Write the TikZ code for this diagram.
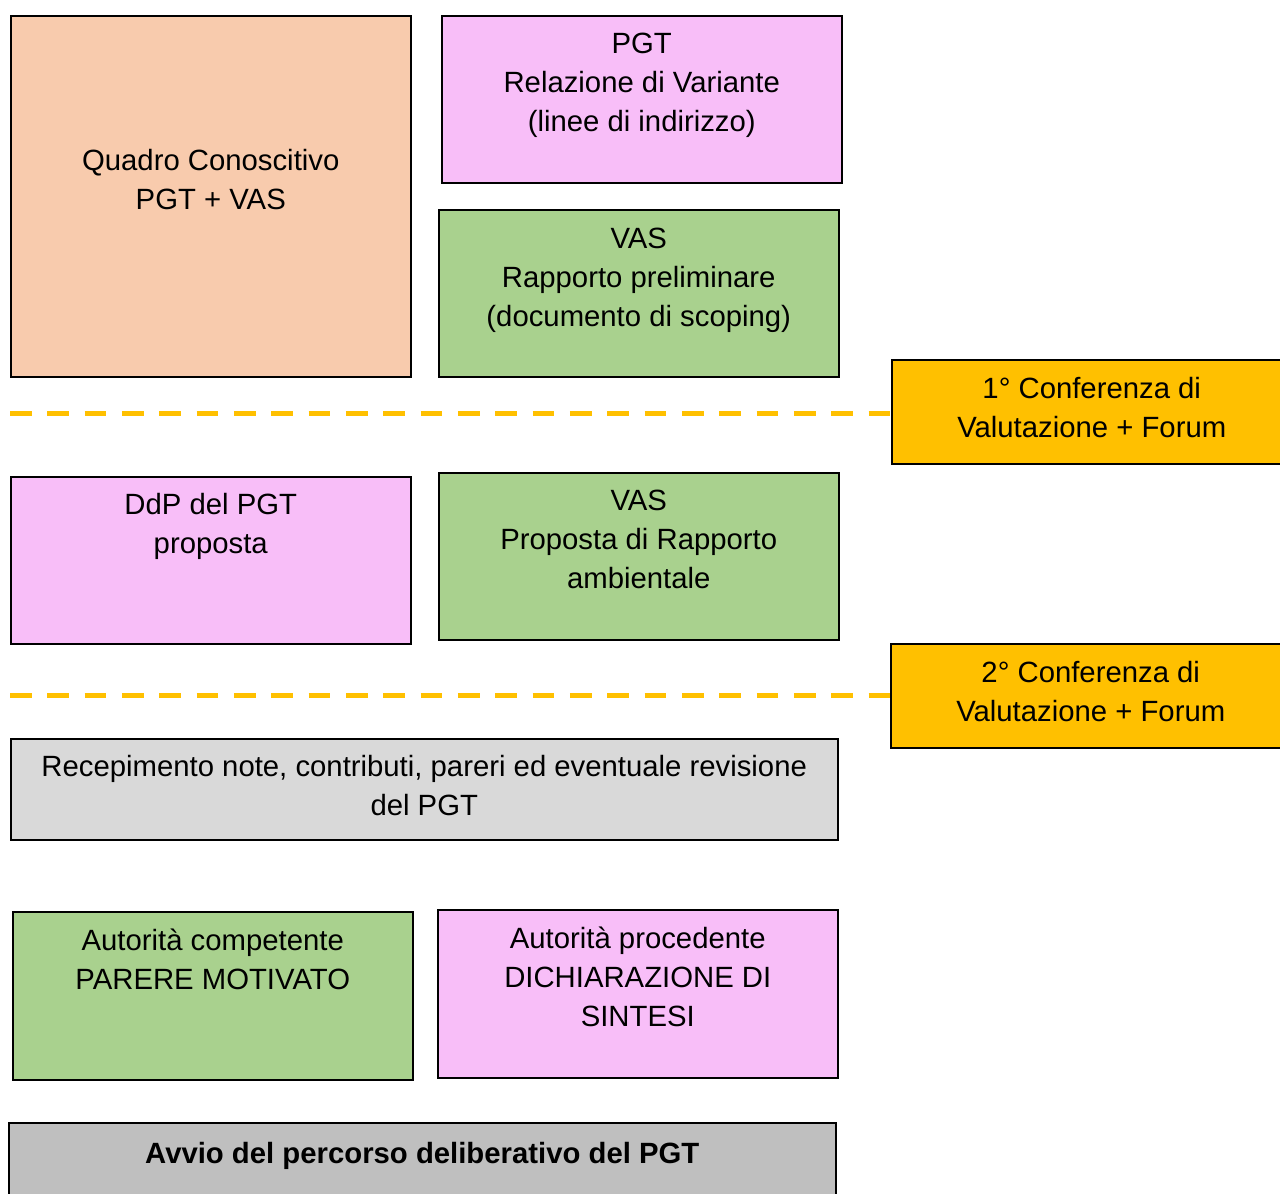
\documentclass[tikz,border=0pt]{standalone}
\usepackage{fontspec}
\setmainfont{Liberation Sans}
\definecolor{peach}{HTML}{F8CBAD}
\definecolor{pinkbox}{HTML}{F8BEF8}
\definecolor{greenbox}{HTML}{A9D18E}
\definecolor{goldbox}{HTML}{FFC000}
\definecolor{graylight}{HTML}{D9D9D9}
\definecolor{graydark}{HTML}{BFBFBF}
\begin{document}
\begin{tikzpicture}[x=1pt,y=-1pt,
  box/.style={draw=black, line width=1.5pt, inner sep=0pt, rectangle, anchor=north west},
  txt/.style={anchor=base, align=center, inner sep=0pt, font=\fontsize{29.3}{39}\selectfont},
  dashline/.style={draw=goldbox, line width=5pt, dash pattern=on 21.8pt off 15.53pt}
]
\useasboundingbox (0,0) rectangle (1280,1194);
\clip (0,0) rectangle (1280,1194);

\node[box, fill=peach, minimum width=400pt, minimum height=361pt] (quadro) at (10,15) {};
\node[txt] (quadroT) at ([yshift=-194pt]quadro.north) {Quadro Conoscitivo\\PGT + VAS};

\node[box, fill=pinkbox, minimum width=400pt, minimum height=167pt] (pgt) at (441,15) {};
\node[txt] (pgtT) at ([yshift=-116.5pt]pgt.north) {PGT\\Relazione di Variante\\(linee di indirizzo)};

\node[box, fill=greenbox, minimum width=400pt, minimum height=167pt] (vas1) at (438,209) {};
\node[txt] (vas1T) at ([yshift=-117.5pt]vas1.north) {VAS\\Rapporto preliminare\\(documento di scoping)};

\node[box, fill=goldbox, minimum width=400pt, minimum height=104pt] (conf1) at (891,359) {};
\node[txt] (conf1T) at ([yshift=-78.5pt]conf1.north) {1° Conferenza di\\Valutazione + Forum};

\node[box, fill=pinkbox, minimum width=400pt, minimum height=167pt] (ddp) at (10,476) {};
\node[txt] (ddpT) at ([yshift=-77.5pt]ddp.north) {DdP del PGT\\proposta};

\node[box, fill=greenbox, minimum width=400pt, minimum height=167pt] (vas2) at (438,472) {};
\node[txt] (vas2T) at ([yshift=-116.5pt]vas2.north) {VAS\\Proposta di Rapporto\\ambientale};

\node[box, fill=goldbox, minimum width=400pt, minimum height=104pt] (conf2) at (890,643) {};
\node[txt] (conf2T) at ([yshift=-78.5pt]conf2.north) {2° Conferenza di\\Valutazione + Forum};

\node[box, fill=graylight, minimum width=827pt, minimum height=101pt] (recep) at (10,738) {};
\node[txt] (recepT) at ([yshift=-77.5pt]recep.north) {Recepimento note, contributi, pareri ed eventuale revisione\\del PGT};

\node[box, fill=greenbox, minimum width=400pt, minimum height=168pt] (autc) at (12,911) {};
\node[txt] (autcT) at ([yshift=-78.5pt]autc.north) {Autorità competente\\PARERE MOTIVATO};

\node[box, fill=pinkbox, minimum width=400pt, minimum height=168pt] (autp) at (437,909) {};
\node[txt] (autpT) at ([yshift=-117.5pt]autp.north) {Autorità procedente\\DICHIARAZIONE DI\\SINTESI};

\node[box, fill=graydark, minimum width=827pt, minimum height=100pt] (avvio) at (8,1122) {};
\node[txt, font=\fontsize{29.3}{39}\selectfont\bfseries] (avvioT) at ([yshift=-41.5pt]avvio.north) {Avvio del percorso deliberativo del PGT};

\coordinate (d1) at (10,413.5);
\coordinate (d2) at (10,695.5);
\draw[dashline] (d1) -- (d1 -| conf1.west);
\draw[dashline] (d2) -- (d2 -| conf2.west);
\end{tikzpicture}
\end{document}
